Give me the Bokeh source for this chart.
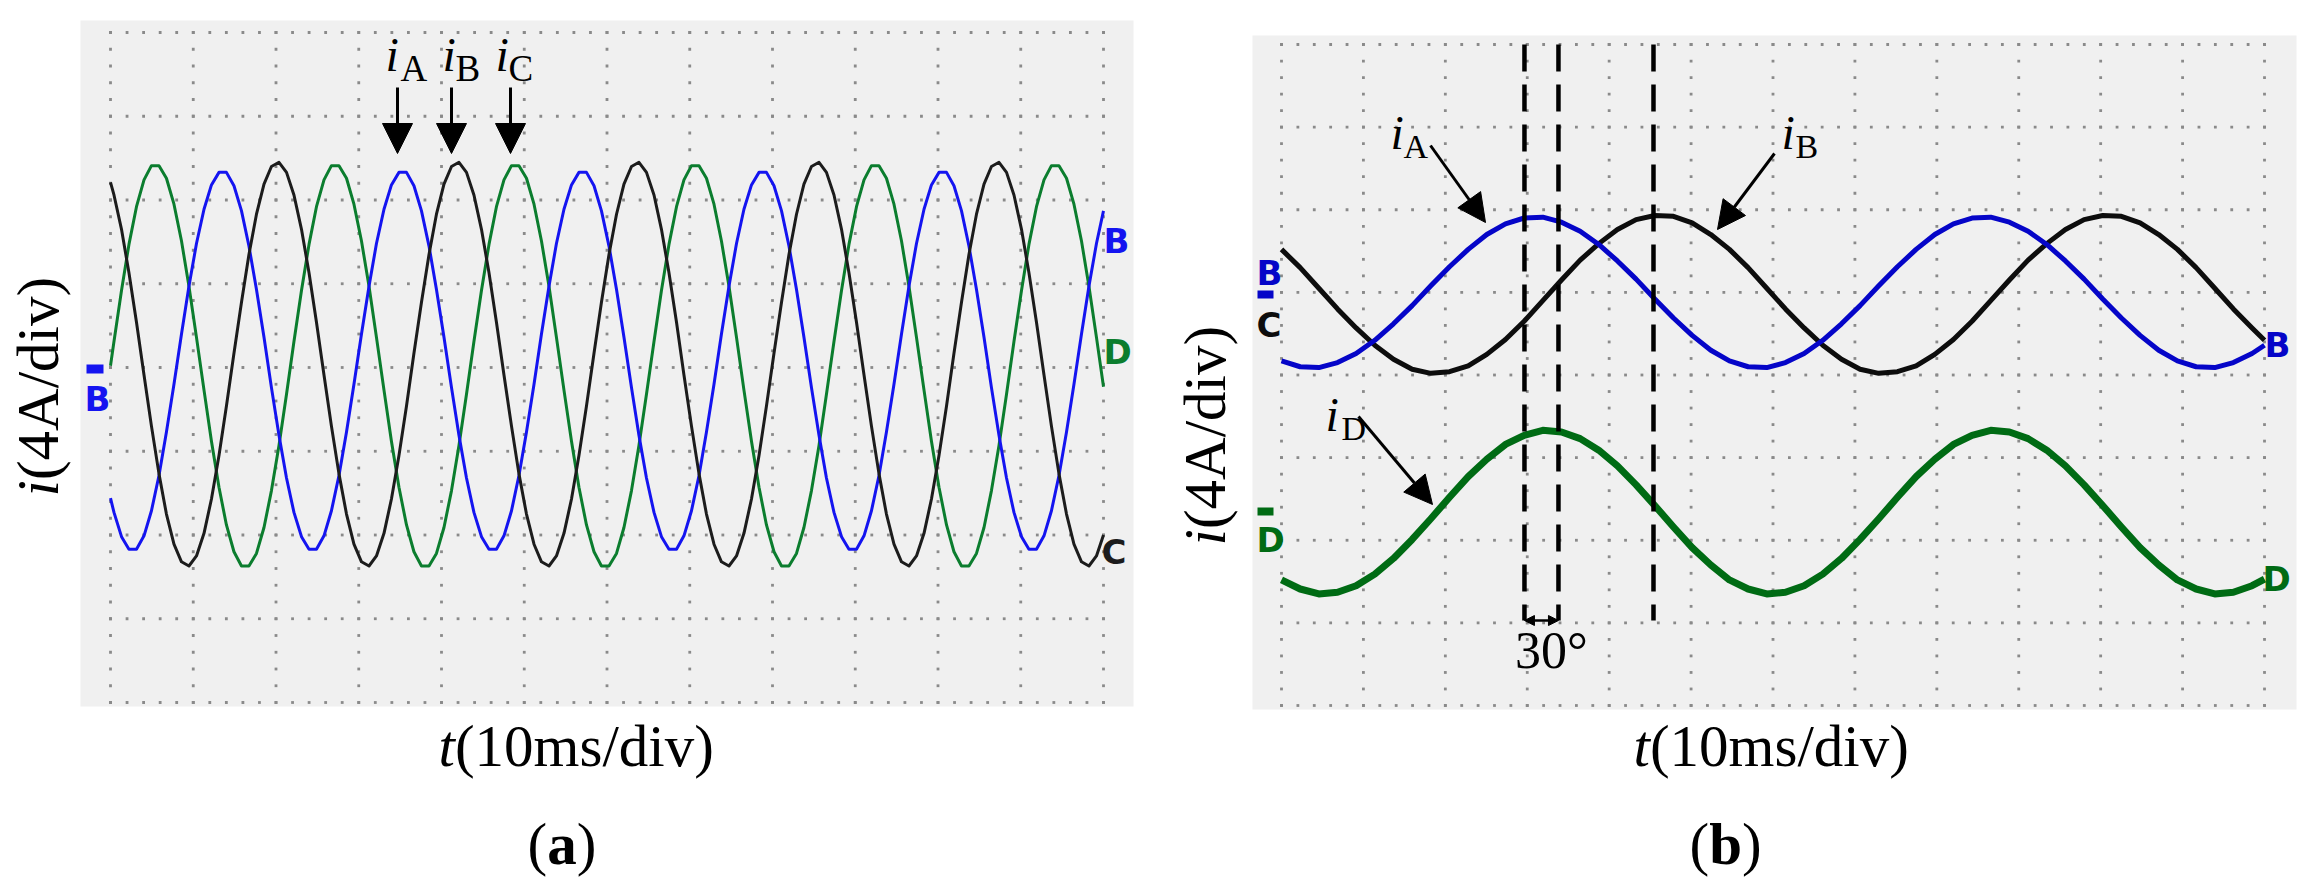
import numpy as np
from bokeh.plotting import figure
from bokeh.layouts import row
from bokeh.models import Label, Arrow, NormalHead, BoxAnnotation
from bokeh.embed import file_html
from bokeh.resources import INLINE

# ---------------- data (in scope divisions) ----------------
# panel (a): sample times (div) and three phase currents (div)
t_a = [0.0,
       0.042, 0.133, 0.223, 0.314, 0.405, 0.495, 0.586, 0.676, 0.767, 0.858, 0.948, 1.039,
       1.130, 1.220, 1.311, 1.401, 1.492, 1.583, 1.673, 1.764, 1.855, 1.945, 2.036, 2.127,
       2.217, 2.308, 2.399, 2.489, 2.580, 2.670, 2.761, 2.852, 2.942, 3.033, 3.124, 3.214,
       3.305, 3.395, 3.486, 3.577, 3.667, 3.758, 3.849, 3.939, 4.030, 4.121, 4.211, 4.302,
       4.392, 4.483, 4.574, 4.664, 4.755, 4.846, 4.936, 5.027, 5.118, 5.208, 5.299, 5.389,
       5.480, 5.571, 5.661, 5.752, 5.843, 5.933, 6.024, 6.115, 6.205, 6.296, 6.386, 6.477,
       6.568, 6.658, 6.749, 6.840, 6.930, 7.021, 7.112, 7.202, 7.293, 7.383, 7.474, 7.565,
       7.655, 7.746, 7.837, 7.927, 8.018, 8.109, 8.199, 8.290, 8.380, 8.471, 8.562, 8.652,
       8.743, 8.834, 8.924, 9.015, 9.106, 9.196, 9.287, 9.377, 9.468, 9.559, 9.649, 9.740,
       9.831, 9.921, 10.012, 10.103, 10.193, 10.284, 10.374, 10.465, 10.556, 10.646, 10.737, 10.828,
       10.918, 11.009, 11.099, 11.190, 11.281, 11.371, 11.462, 11.553, 11.643, 11.734, 11.824, 11.915,
       12.0]

iA_a = [-1.56,
        -1.73, -2.02, -2.17, -2.17, -2.01, -1.71, -1.29, -0.77, -0.20, 0.40, 0.97, 1.48,
        1.89, 2.18, 2.33, 2.33, 2.17, 1.87, 1.45, 0.93, 0.36, -0.24, -0.81, -1.32,
        -1.73, -2.02, -2.17, -2.17, -2.01, -1.71, -1.29, -0.77, -0.20, 0.40, 0.97, 1.48,
        1.89, 2.18, 2.33, 2.33, 2.17, 1.87, 1.45, 0.93, 0.36, -0.24, -0.81, -1.32,
        -1.73, -2.02, -2.17, -2.17, -2.01, -1.71, -1.29, -0.77, -0.20, 0.40, 0.97, 1.48,
        1.89, 2.18, 2.33, 2.33, 2.17, 1.87, 1.45, 0.93, 0.36, -0.24, -0.81, -1.32,
        -1.73, -2.02, -2.17, -2.17, -2.01, -1.71, -1.29, -0.77, -0.20, 0.40, 0.97, 1.48,
        1.89, 2.18, 2.33, 2.33, 2.17, 1.87, 1.45, 0.93, 0.36, -0.24, -0.81, -1.32,
        -1.73, -2.02, -2.17, -2.17, -2.01, -1.71, -1.29, -0.77, -0.20, 0.40, 0.97, 1.48,
        1.89, 2.18, 2.33, 2.33, 2.17, 1.87, 1.45, 0.93, 0.36, -0.24, -0.81, -1.32,
        -1.73, -2.02, -2.17, -2.17, -2.01, -1.71, -1.29, -0.77, -0.20, 0.40, 0.97, 1.48,
        1.87]

iB_a = [2.21,
        2.06, 1.65, 1.13, 0.54, -0.09, -0.70, -1.27, -1.75, -2.11, -2.32, -2.37, -2.25,
        -1.98, -1.57, -1.05, -0.46, 0.17, 0.78, 1.35, 1.83, 2.19, 2.40, 2.45, 2.33,
        2.06, 1.65, 1.13, 0.54, -0.09, -0.70, -1.27, -1.75, -2.11, -2.32, -2.37, -2.25,
        -1.98, -1.57, -1.05, -0.46, 0.17, 0.78, 1.35, 1.83, 2.19, 2.40, 2.45, 2.33,
        2.06, 1.65, 1.13, 0.54, -0.09, -0.70, -1.27, -1.75, -2.11, -2.32, -2.37, -2.25,
        -1.98, -1.57, -1.05, -0.46, 0.17, 0.78, 1.35, 1.83, 2.19, 2.40, 2.45, 2.33,
        2.06, 1.65, 1.13, 0.54, -0.09, -0.70, -1.27, -1.75, -2.11, -2.32, -2.37, -2.25,
        -1.98, -1.57, -1.05, -0.46, 0.17, 0.78, 1.35, 1.83, 2.19, 2.40, 2.45, 2.33,
        2.06, 1.65, 1.13, 0.54, -0.09, -0.70, -1.27, -1.75, -2.11, -2.32, -2.37, -2.25,
        -1.98, -1.57, -1.05, -0.46, 0.17, 0.78, 1.35, 1.83, 2.19, 2.40, 2.45, 2.33,
        2.06, 1.65, 1.13, 0.54, -0.09, -0.70, -1.27, -1.75, -2.11, -2.32, -2.37, -2.25,
        -2.00]

iC_a = [0.02,
        0.31, 0.92, 1.47, 1.92, 2.24, 2.41, 2.41, 2.26, 1.95, 1.51, 0.97, 0.36,
        -0.27, -0.88, -1.43, -1.88, -2.20, -2.37, -2.37, -2.22, -1.91, -1.47, -0.93, -0.32,
        0.31, 0.92, 1.47, 1.92, 2.24, 2.41, 2.41, 2.26, 1.95, 1.51, 0.97, 0.36,
        -0.27, -0.88, -1.43, -1.88, -2.20, -2.37, -2.37, -2.22, -1.91, -1.47, -0.93, -0.32,
        0.31, 0.92, 1.47, 1.92, 2.24, 2.41, 2.41, 2.26, 1.95, 1.51, 0.97, 0.36,
        -0.27, -0.88, -1.43, -1.88, -2.20, -2.37, -2.37, -2.22, -1.91, -1.47, -0.93, -0.32,
        0.31, 0.92, 1.47, 1.92, 2.24, 2.41, 2.41, 2.26, 1.95, 1.51, 0.97, 0.36,
        -0.27, -0.88, -1.43, -1.88, -2.20, -2.37, -2.37, -2.22, -1.91, -1.47, -0.93, -0.32,
        0.31, 0.92, 1.47, 1.92, 2.24, 2.41, 2.41, 2.26, 1.95, 1.51, 0.97, 0.36,
        -0.27, -0.88, -1.43, -1.88, -2.20, -2.37, -2.37, -2.22, -1.91, -1.47, -0.93, -0.32,
        0.31, 0.92, 1.47, 1.92, 2.24, 2.41, 2.41, 2.26, 1.95, 1.51, 0.97, 0.36,
        -0.23]

# panel (b): sample times (div) and currents iA, iB, iD (div)
t_b = [0.0, 0.228, 0.456, 0.684, 0.911, 1.139, 1.367, 1.595, 1.823, 2.051, 2.279, 2.506,
       2.734, 2.962, 3.190, 3.418, 3.646, 3.873, 4.101, 4.329, 4.557, 4.785, 5.013, 5.241,
       5.468, 5.696, 5.924, 6.152, 6.380, 6.608, 6.836, 7.063, 7.291, 7.519, 7.747, 7.975,
       8.203, 8.430, 8.658, 8.886, 9.114, 9.342, 9.570, 9.798, 10.025, 10.253, 10.481, 10.709,
       10.937, 11.165, 11.393, 11.620, 11.848, 12.0]

iA_b = [0.17, 0.10, 0.09, 0.15, 0.26, 0.42, 0.62, 0.84, 1.08, 1.31, 1.52, 1.70,
        1.83, 1.90, 1.91, 1.85, 1.74, 1.58, 1.38, 1.16, 0.92, 0.69, 0.48, 0.30,
        0.17, 0.10, 0.09, 0.15, 0.26, 0.42, 0.62, 0.84, 1.08, 1.31, 1.52, 1.70,
        1.83, 1.90, 1.91, 1.85, 1.74, 1.58, 1.38, 1.16, 0.92, 0.69, 0.48, 0.30,
        0.17, 0.10, 0.09, 0.15, 0.26, 0.36]

iB_b = [1.52, 1.30, 1.05, 0.80, 0.57, 0.36, 0.19, 0.07, 0.02, 0.04, 0.11, 0.25,
        0.43, 0.65, 0.90, 1.15, 1.39, 1.59, 1.76, 1.88, 1.93, 1.92, 1.84, 1.70,
        1.52, 1.30, 1.05, 0.80, 0.57, 0.36, 0.19, 0.07, 0.02, 0.04, 0.11, 0.25,
        0.43, 0.65, 0.90, 1.15, 1.39, 1.59, 1.76, 1.88, 1.93, 1.92, 1.84, 1.70,
        1.52, 1.30, 1.05, 0.80, 0.57, 0.42]

iD_b = [-2.48, -2.59, -2.65, -2.63, -2.55, -2.41, -2.22, -1.99, -1.74, -1.48, -1.23, -1.02,
        -0.84, -0.73, -0.67, -0.69, -0.77, -0.91, -1.10, -1.33, -1.58, -1.84, -2.09, -2.30,
        -2.48, -2.59, -2.65, -2.63, -2.55, -2.41, -2.22, -1.99, -1.74, -1.48, -1.23, -1.02,
        -0.84, -0.73, -0.67, -0.69, -0.77, -0.91, -1.10, -1.33, -1.58, -1.84, -2.09, -2.30,
        -2.48, -2.59, -2.65, -2.63, -2.55, -2.47]

# phase markers in (b): peak of iA, peak of iD, peak of iB (div)
marks_b = [2.966, 3.381, 4.541]

N_XDIV = 12
N_YDIV = 8

SERIF = "Liberation Serif"
SANS = "DejaVu Sans"
BG = "#f0f0f0"
H = 888


def make_fig(width, xr, yr, bg):
    p = figure(width=width, height=H, x_range=xr, y_range=yr,
               output_backend="svg", toolbar_location=None,
               x_axis_location=None, y_axis_location=None,
               min_border=0, min_border_left=0, min_border_right=0,
               min_border_top=0, min_border_bottom=0,
               background_fill_color="white", border_fill_color="white",
               outline_line_color=None)
    p.xgrid.visible = False
    p.ygrid.visible = False
    # grey screen of the oscilloscope
    p.add_layout(BoxAnnotation(left=bg[0], right=bg[1], bottom=bg[2], top=bg[3],
                               fill_color=BG, fill_alpha=1, line_color=None,
                               level="underlay"))
    # dotted oscilloscope graticule
    xs_v, ys_v = np.meshgrid(np.arange(0, N_XDIV + 1), np.arange(0, N_YDIV * 5 + 1) * 0.2 - N_YDIV / 2)
    xs_h, ys_h = np.meshgrid(np.arange(0, N_XDIV * 5 + 1) * 0.2, np.arange(-N_YDIV // 2, N_YDIV // 2 + 1))
    gx = np.concatenate([xs_v.ravel(), xs_h.ravel()])
    gy = np.concatenate([ys_v.ravel(), ys_h.ravel()])
    p.scatter(gx, gy, marker="square", size=2.8, fill_color="#8a8a8a", line_color=None)
    return p


def lab(p, x, y, text, size, font=SERIF, style="normal", align="left",
        color="black", angle=0.0):
    # (x, y) is the vertical middle of the text line
    p.add_layout(Label(x=x, y=y, text=text, text_font=font, text_font_size=f"{size}px",
                       text_font_style=style, text_align=align, text_baseline="middle",
                       text_color=color, angle=angle))


def arr(p, x0, y0, x1, y1, size, lw=3):
    p.add_layout(Arrow(end=NormalHead(size=size, fill_color="black", line_color="black"),
                       x_start=x0, y_start=y0, x_end=x1, y_end=y1,
                       line_width=lw, line_color="black"))


FS = 59        # axis-title / caption size
FI = 48        # "i" size of curve labels
MARK = 34      # oscilloscope channel marker size


def mid(baseline, size):
    return baseline - 0.3375 * size


# ---------------- panel (a) ----------------
def ax(px):
    return (px - 110) / 82.75


def ay(py):
    return (367 - py) / 83.75


pa = make_fig(1160, (ax(0), ax(1160)), (ay(H), ay(0)), (ax(80), ax(1133), ay(706), ay(20)))
pa.line(t_a, iC_a, line_width=3, line_color="#0b7d2e", line_join="round")
pa.line(t_a, iA_a, line_width=3, line_color="#1414f0", line_join="round")
pa.line(t_a, iB_a, line_width=3, line_color="#1c1c1c", line_join="round")

# channel markers
lab(pa, ax(1103), ay(240), "B", MARK, font=SANS, style="bold", color="#1414f0")
lab(pa, ax(1103), ay(351), "D", MARK, font=SANS, style="bold", color="#0b7d2e")
lab(pa, ax(1101), ay(551), "C", MARK, font=SANS, style="bold", color="#1c1c1c")
lab(pa, ax(84), ay(398), "B", MARK, font=SANS, style="bold", color="#1414f0")
pa.add_layout(BoxAnnotation(left=ax(86), right=ax(103), bottom=ay(373), top=ay(364),
                            fill_color="#1414f0", fill_alpha=1, line_color=None))

# curve labels + arrows
for (xi, xs, sub) in [(385, 400, "A"), (442, 455, "B"), (495, 508, "C")]:
    lab(pa, ax(xi), ay(mid(70, FI)), "i", FI, style="italic")
    lab(pa, ax(xs), ay(mid(80, 37)), sub, 37)
for xarr in [397, 451, 510]:
    arr(pa, ax(xarr), ay(87), ax(xarr), ay(153), 30)

# axis titles and caption
lab(pa, ax(37), ay(496), "i", FS, style="italic", angle=np.pi / 2)
lab(pa, ax(37), ay(496 - 0.278 * FS), "(4A/div)", FS, angle=np.pi / 2)
lab(pa, ax(438), ay(745), "t", FS, style="italic")
lab(pa, ax(438 + 0.278 * FS), ay(745), "(10ms/div)", FS)
lab(pa, ax(527), ay(843), "(", FS)
lab(pa, ax(527 + 0.333 * FS), ay(843), "a", FS, style="bold")
lab(pa, ax(527 + 0.833 * FS), ay(843), ")", FS)


# ---------------- panel (b) ----------------
def bx(px):
    return (px - 1281) / 81.917


def by(py):
    return (374.5 - py) / 82.625


pb = make_fig(1151, (bx(1160), bx(2311)), (by(H), by(0)), (bx(1252), bx(2296), by(709), by(35)))
pb.line(t_b, iD_b, line_width=7, line_color="#006b14", line_join="round")
pb.line(t_b, iB_b, line_width=5, line_color="#0d0d0d", line_join="round")
pb.line(t_b, iA_b, line_width=5, line_color="#0505c8", line_join="round")

# dashed phase markers
pb.segment(x0=marks_b, y0=[4, 4, 4], x1=marks_b, y1=[by(620)] * 3,
           line_width=4.5, line_color="black", line_dash="27 13")
pb.add_layout(Arrow(start=NormalHead(size=10, fill_color="black", line_color="black"),
                    end=NormalHead(size=10, fill_color="black", line_color="black"),
                    x_start=marks_b[0], y_start=by(620), x_end=marks_b[1], y_end=by(620),
                    line_width=2.5, line_color="black"))
lab(pb, bx(1551), by(650), "30°", 52, align="center")

# channel markers
lab(pb, bx(1256), by(272), "B", MARK, font=SANS, style="bold", color="#0505c8")
pb.add_layout(BoxAnnotation(left=bx(1257), right=bx(1273), bottom=by(298), top=by(290),
                            fill_color="#0505c8", fill_alpha=1, line_color=None))
lab(pb, bx(1256), by(324), "C", MARK, font=SANS, style="bold", color="#0d0d0d")
pb.add_layout(BoxAnnotation(left=bx(1257), right=bx(1273), bottom=by(515), top=by(507),
                            fill_color="#006b14", fill_alpha=1, line_color=None))
lab(pb, bx(1256), by(539), "D", MARK, font=SANS, style="bold", color="#006b14")
lab(pb, bx(2264), by(344), "B", MARK, font=SANS, style="bold", color="#0505c8")
lab(pb, bx(2262), by(578), "D", MARK, font=SANS, style="bold", color="#006b14")

# curve labels + arrows
lab(pb, bx(1390), by(mid(148, FI)), "i", FI, style="italic")
lab(pb, bx(1403), by(mid(157, 34)), "A", 34)
arr(pb, bx(1430), by(145), bx(1485), by(222), 28)
lab(pb, bx(1781), by(mid(148, FI)), "i", FI, style="italic")
lab(pb, bx(1795), by(mid(157, 34)), "B", 34)
arr(pb, bx(1774), by(153), bx(1717), by(229), 28)
lab(pb, bx(1325), by(mid(430, FI)), "i", FI, style="italic")
lab(pb, bx(1341), by(mid(439, 34)), "D", 34)
arr(pb, bx(1358), by(416), bx(1432), by(504), 28)

# axis titles and caption
lab(pb, bx(1204), by(545), "i", FS, style="italic", angle=np.pi / 2)
lab(pb, bx(1204), by(545 - 0.278 * FS), "(4A/div)", FS, angle=np.pi / 2)
lab(pb, bx(1633), by(745), "t", FS, style="italic")
lab(pb, bx(1633 + 0.278 * FS), by(745), "(10ms/div)", FS)
lab(pb, bx(1689), by(843), "(", FS)
lab(pb, bx(1689 + 0.333 * FS), by(843), "b", FS, style="bold")
lab(pb, bx(1689 + 0.889 * FS), by(843), ")", FS)

layout = row(pa, pb, spacing=0)
open("out.html", "w").write(file_html(layout, INLINE))
